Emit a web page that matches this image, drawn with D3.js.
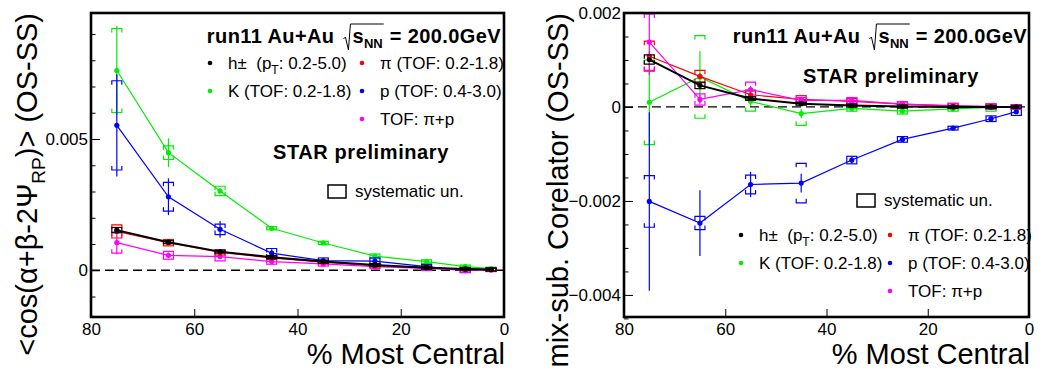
<!DOCTYPE html>
<html><head><meta charset="utf-8">
<script src="https://cdn.jsdelivr.net/npm/d3@7"></script>
<style>
body{margin:0;background:#fff}
svg{display:block}
text{font-family:"Liberation Sans",Arial,Helvetica,sans-serif;fill:#000;white-space:pre}
</style></head>
<body><svg id="c" width="1054" height="371"></svg>
<script>
// ---------------- data ----------------
const centrality = [75, 65, 55, 45, 35, 25, 15, 7.5, 2.5];
const xTicks = [80, 60, 40, 20, 0];

// Left panel: <cos(a+b-2Psi_RP)> (OS-SS)
const L_h_val   = [0.00153, 0.00107, 0.00071, 0.00050, 0.00033, 0.00020, 0.00010, 0.00005, 0.00003];
const L_h_stat  = [0.00008, 0.00004, 0.00003, 0.00002, 0.00002, 0.00001, 0.00001, 0.00001, 0.00001];
const L_h_sys   = [0.00010, 0.00005, 0.00004, 0.00003, 0.00003, 0.00002, 0.00002, 0.00002, 0.00002];
const L_pi_val  = [0.00148, 0.00105, 0.00068, 0.00047, 0.00031, 0.00018, 0.00010, 0.00004, 0.00002];
const L_pi_stat = [0.00010, 0.00005, 0.00004, 0.00003, 0.00002, 0.00002, 0.00002, 0.00002, 0.00002];
const L_pi_sys  = [0.00025, 0.00012, 0.00010, 0.00005, 0.00004, 0.00004, 0.00003, 0.00003, 0.00003];
const L_K_val   = [0.00761, 0.00448, 0.00302, 0.00160, 0.00104, 0.00054, 0.00033, 0.00014, 0.00006];
const L_K_stat  = [0.00170, 0.00055, 0.00010, 0.00008, 0.00006, 0.00006, 0.00007, 0.00006, 0.00005];
const L_K_sys   = [0.00160, 0.00026, 0.00018, 0.00006, 0.00006, 0.00008, 0.00007, 0.00006, 0.00005];
const L_p_val   = [0.00552, 0.00280, 0.00156, 0.00065, 0.00037, 0.00035, 0.00014, -0.00001, 0.00003];
const L_p_stat  = [0.00195, 0.00070, 0.00032, 0.00015, 0.00010, 0.00010, 0.00008, 0.00008, 0.00008];
const L_p_sys   = [0.00170, 0.00055, 0.00020, 0.00018, 0.00010, 0.00012, 0.00008, 0.00008, 0.00006];
const L_tof_val = [0.00105, 0.00057, 0.00052, 0.00033, 0.00024, 0.00014, 0.00007, 0.00000, 0.00001];
const L_tof_stat= [0.00045, 0.00010, 0.00005, 0.00004, 0.00004, 0.00004, 0.00004, 0.00004, 0.00004];
const L_tof_sys = [0.00040, 0.00015, 0.00016, 0.00010, 0.00008, 0.00008, 0.00008, 0.00008, 0.00006];

// Right panel: mix-sub. correlator (OS-SS)
const R_h_val   = [0.00101, 0.00046, 0.00018, 0.00007, 0.00003, 0.00001, 0.00000, 0.00000, 0.00000];
const R_h_stat  = [0.00005, 0.00004, 0.00003, 0.00002, 0.00002, 0.00002, 0.00002, 0.00002, 0.00002];
const R_h_sys   = [0.00010, 0.00007, 0.00004, 0.00003, 0.00003, 0.00002, 0.00002, 0.00002, 0.00002];
const R_pi_val  = [0.00108, 0.00065, 0.00026, 0.00016, 0.00012, 0.00006, 0.00003, 0.00001, 0.00000];
const R_pi_stat = [0.00010, 0.00006, 0.00004, 0.00003, 0.00003, 0.00003, 0.00003, 0.00003, 0.00003];
const R_pi_sys  = [0.00032, 0.00013, 0.00010, 0.00008, 0.00006, 0.00005, 0.00005, 0.00005, 0.00005];
const R_K_val   = [0.00010, 0.00064, 0.00012, -0.00014, -0.00003, -0.00009, -0.00004, -0.00001, 0.00000];
const R_K_stat  = [0.00090, 0.00055, 0.00010, 0.00010, 0.00005, 0.00005, 0.00005, 0.00005, 0.00005];
const R_K_sys   = [0.00090, 0.00088, 0.00021, 0.00025, 0.00006, 0.00006, 0.00005, 0.00008, 0.00005];
const R_p_val   = [-0.00201, -0.00247, -0.00165, -0.00162, -0.00113, -0.00069, -0.00045, -0.00025, -0.00010];
const R_p_stat  = [0.00190, 0.00070, 0.00027, 0.00020, 0.00008, 0.00005, 0.00004, 0.00004, 0.00004];
const R_p_sys   = [0.00055, 0.00014, 0.00020, 0.00042, 0.00008, 0.00006, 0.00004, 0.00006, 0.00008];
const R_tof_val = [0.00138, 0.00016, 0.00037, 0.00014, 0.00014, 0.00006, 0.00002, 0.00001, 0.00000];
const R_tof_stat= [0.00070, 0.00010, 0.00008, 0.00005, 0.00005, 0.00005, 0.00004, 0.00004, 0.00004];
const R_tof_sys = [0.00060, 0.00012, 0.00016, 0.00006, 0.00006, 0.00005, 0.00005, 0.00006, 0.00005];

const L_yTicks = [0, 0.005];
const L_yTickLabels = ["0", "0.005"];
const L_yMinor = [-0.001, 0.001, 0.002, 0.003, 0.004, 0.006, 0.007, 0.008, 0.009];
const R_yTicks = [-0.004, -0.002, 0, 0.002];
const R_yTickLabels = ["\u22120.004", "\u22120.002", "0", "0.002"];
const R_yMinor = [-0.0045, -0.0035, -0.003, -0.0025, -0.0015, -0.001, -0.0005, 0.0005, 0.001, 0.0015];

const seriesNames = ["h\u00b1", "\u03c0 (TOF: 0.2-1.8)", "K (TOF: 0.2-1.8)", "p (TOF: 0.4-3.0)", "TOF: \u03c0+p"];
const seriesColors = ["#000000", "#ff0000", "#00ee00", "#0000ff", "#ff00ff"];
const titleParts = ["run11 Au+Au", "s", "NN", " = 200.0GeV"];
const starText = "STAR preliminary";
const sysText = "systematic un.";
const xLabel = "% Most Central";

// ---------------- drawing ----------------
const svg = d3.select("#c");

function drawTitle(xRight, baseline) {
  const t = svg.append("g");
  const f = 20, ls = 0.4;
  let cx = 0;
  const t1 = t.append("text").attr("x", cx).attr("y", baseline).attr("font-weight", "bold")
    .attr("font-size", f).attr("letter-spacing", ls).text(titleParts[0]);
  cx += t1.node().getComputedTextLength() + 9;
  const rx = cx;
  cx += 9;
  const t2 = t.append("text").attr("x", cx).attr("y", baseline).attr("font-weight", "bold")
    .attr("font-size", f).attr("letter-spacing", ls).text(titleParts[1]);
  cx += t2.node().getComputedTextLength();
  const t3 = t.append("text").attr("x", cx).attr("y", baseline + 5).attr("font-weight", "bold")
    .attr("font-size", 13).text(titleParts[2]);
  cx += t3.node().getComputedTextLength() + 1;
  t.append("path").attr("fill", "none").attr("stroke", "#000").attr("stroke-width", 1)
    .attr("d", `M${rx},${baseline - 4} L${rx + 2},${baseline - 6} L${rx + 5},${baseline + 7} L${rx + 7},${baseline - 19} L${cx},${baseline - 19}`);
  const t4 = t.append("text").attr("x", cx).attr("y", baseline).attr("font-weight", "bold")
    .attr("font-size", f).attr("letter-spacing", ls).text(titleParts[3]);
  cx += t4.node().getComputedTextLength();
  t.attr("transform", `translate(${xRight - cx},0)`);
}

function legendEntry(g, mx, my, color, label, sub) {
  g.append("circle").attr("cx", mx).attr("cy", my).attr("r", 2.3).attr("fill", color);
  const t = g.append("text").attr("x", mx + 18).attr("y", my + 6).attr("font-size", 17);
  if (sub) {
    t.append("tspan").text(label + "  (p");
    t.append("tspan").attr("font-size", 12).attr("dy", 5).text("T");
    t.append("tspan").attr("dy", -5).text(": 0.2-5.0)");
  } else {
    t.text(label);
  }
}

function drawPanel(p) {
  const x = d3.scaleLinear().domain([80, 0]).range([p.x0, p.x1]);
  const y = d3.scaleLinear().domain(p.yDomain).range([p.y1, p.y0]);
  const g = svg.append("g");
  svg.append("clipPath").attr("id", "clip" + p.id).append("rect")
    .attr("x", p.x0).attr("y", p.y0).attr("width", p.x1 - p.x0).attr("height", p.y1 - p.y0);

  // zero line
  g.append("line").attr("x1", p.x0).attr("x2", p.x1).attr("y1", y(0)).attr("y2", y(0))
    .attr("stroke", "#000").attr("stroke-width", 1.3).attr("stroke-dasharray", "9,5");

  const dg = g.append("g").attr("clip-path", `url(#clip${p.id})`);
  p.order.forEach(k => {
    const s = p.series[k];
    const color = seriesColors[k];
    const pts = centrality.map((c, i) => ({ c, v: s.val[i], st: s.stat[i], sy: s.sys[i] }));
    const lw = k === 0 ? 2 : 1.2;
    // systematic brackets/boxes
    pts.forEach(d => {
      const cx = x(d.c), hw = 5, tk = 4;
      let ty = y(d.v + d.sy), by = y(d.v - d.sy);
      if ((by - ty) / 2 <= tk) {
        const mid = (ty + by) / 2, h = Math.max(by - ty, 3);
        dg.append("rect").attr("x", cx - hw).attr("y", mid - h / 2).attr("width", 2 * hw).attr("height", h)
          .attr("fill", "none").attr("stroke", color).attr("stroke-width", 1.2);
      } else {
        dg.append("path").attr("fill", "none").attr("stroke", color).attr("stroke-width", 1.2)
          .attr("d", `M${cx - hw},${ty + tk}V${ty}H${cx + hw}V${ty + tk}M${cx - hw},${by - tk}V${by}H${cx + hw}V${by - tk}`);
      }
    });
    // stat bars
    dg.selectAll(null).data(pts).enter().append("line")
      .attr("x1", d => x(d.c)).attr("x2", d => x(d.c))
      .attr("y1", d => y(d.v - d.st)).attr("y2", d => y(d.v + d.st))
      .attr("stroke", color).attr("stroke-width", 1.2);
    // line
    dg.append("path").datum(pts).attr("fill", "none").attr("stroke", color).attr("stroke-width", lw)
      .attr("d", d3.line().x(d => x(d.c)).y(d => y(d.v)));
    // markers
    dg.selectAll(null).data(pts).enter().append("circle")
      .attr("cx", d => x(d.c)).attr("cy", d => y(d.v)).attr("r", 2.6).attr("fill", color);
  });

  // axes
  const xa = g.append("g").attr("transform", `translate(0,${p.y1})`)
    .call(d3.axisBottom(x).tickValues(xTicks).tickSize(-8).tickPadding(6).tickFormat(d3.format("d")));
  const ya = g.append("g").attr("transform", `translate(${p.x0},0)`)
    .call(d3.axisLeft(y).tickValues(p.yTicks).tickSize(-9).tickPadding(3).tickFormat((d, i) => p.yTickLabels[i]));
  const ym = g.append("g").attr("transform", `translate(${p.x0},0)`)
    .call(d3.axisLeft(y).tickValues(p.yMinor).tickSize(-4.5).tickFormat(""));
  [xa, ya, ym].forEach(a => {
    a.select(".domain").remove();
    a.selectAll("line").attr("stroke", "#000").attr("stroke-width", 1);
    a.selectAll("text").attr("font-size", 17).attr("font-family", '"Liberation Sans",Arial,sans-serif').attr("fill", "#000");
  });

  // frame
  g.append("rect").attr("x", p.x0).attr("y", p.y0).attr("width", p.x1 - p.x0).attr("height", p.y1 - p.y0)
    .attr("fill", "none").attr("stroke", "#000").attr("stroke-width", 2.6);

  // axis titles
  g.append("text").attr("x", p.x1 + 1).attr("y", 364).attr("text-anchor", "end").attr("font-size", 29).text(xLabel);
  const yl = g.append("text").attr("transform", `translate(${p.ylabX},${p.y0}) rotate(-90)`)
    .attr("text-anchor", "end").attr("font-size", 29);
  p.ylab(yl);

  drawTitle(p.titleRight, 43);
  g.append("text").attr("x", p.starX).attr("y", p.starY).attr("font-weight", "bold").attr("font-size", 20)
    .attr("letter-spacing", 0.6).text(starText);
  g.append("rect").attr("x", p.sysX).attr("y", p.sysY).attr("width", 18).attr("height", 13)
    .attr("fill", "none").attr("stroke", "#000").attr("stroke-width", 1.5);
  g.append("text").attr("x", p.sysX + 27).attr("y", p.sysY + 12).attr("font-size", 17).text(sysText);

  // legend
  const lg = g.append("g");
  const [c1, c2] = p.legCols, [r1, r2, r3] = p.legRows;
  legendEntry(lg, c1, r1, seriesColors[0], seriesNames[0], true);
  legendEntry(lg, c2, r1, seriesColors[1], seriesNames[1]);
  legendEntry(lg, c1, r2, seriesColors[2], seriesNames[2]);
  legendEntry(lg, c2, r2, seriesColors[3], seriesNames[3]);
  legendEntry(lg, c2, r3, seriesColors[4], seriesNames[4]);
}

const mk = (v, st, sy) => ({ val: v, stat: st, sys: sy });

drawPanel({
  id: "L", x0: 91, x1: 504, y0: 13, y1: 317, yDomain: [-0.00178, 0.0098],
  series: [mk(L_h_val, L_h_stat, L_h_sys), mk(L_pi_val, L_pi_stat, L_pi_sys), mk(L_K_val, L_K_stat, L_K_sys),
           mk(L_p_val, L_p_stat, L_p_sys), mk(L_tof_val, L_tof_stat, L_tof_sys)],
  order: [2, 3, 4, 1, 0],
  yTicks: L_yTicks, yTickLabels: L_yTickLabels, yMinor: L_yMinor,
  ylabX: 37,
  ylab: t => {
    t.append("tspan").text("<cos(\u03b1+\u03b2-2\u03a8");
    t.append("tspan").attr("font-size", 19).attr("dy", 8).text("RP");
    t.append("tspan").attr("dy", -8).text(")> (OS-SS)");
  },
  titleRight: 501, starX: 273, starY: 159, sysX: 328, sysY: 185,
  legCols: [210, 362], legRows: [63, 91, 119]
});

drawPanel({
  id: "R", x0: 624, x1: 1029, y0: 13, y1: 317, yDomain: [-0.00447, 0.002],
  series: [mk(R_h_val, R_h_stat, R_h_sys), mk(R_pi_val, R_pi_stat, R_pi_sys), mk(R_K_val, R_K_stat, R_K_sys),
           mk(R_p_val, R_p_stat, R_p_sys), mk(R_tof_val, R_tof_stat, R_tof_sys)],
  order: [2, 3, 1, 4, 0],
  yTicks: R_yTicks, yTickLabels: R_yTickLabels, yMinor: R_yMinor,
  ylabX: 568,
  ylab: t => { t.text("mix-sub. Corelator (OS-SS)"); },
  titleRight: 1027, starX: 803, starY: 83, sysX: 857, sysY: 194,
  legCols: [741, 890], legRows: [235, 263, 291]
});
</script></body></html>
